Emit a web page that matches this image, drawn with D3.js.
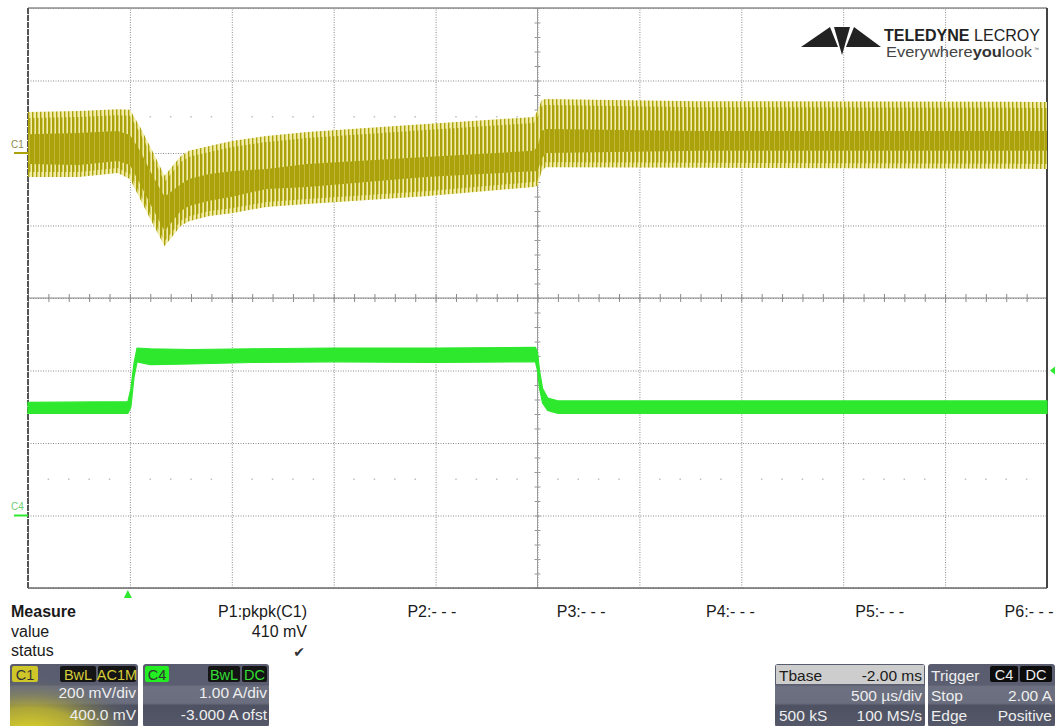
<!DOCTYPE html>
<html><head><meta charset="utf-8">
<script src="https://cdn.jsdelivr.net/npm/d3@7"></script>
<style>
html,body{margin:0;padding:0;background:#fff;}
svg{display:block;font-family:"Liberation Sans",Arial,sans-serif;}
</style></head>
<body>
<svg id="chart" width="1055" height="726"></svg>
<script>
// ---------- DATA ----------
// time axis (ms), 500 us/div, trigger at 0, delay -2.00 ms
const timeDivs = [-0.5,0,0.5,1,1.5,2,2.5,3,3.5,4,4.5];
// C1 (mV), 200 mV/div, offset 400 mV
const c1Divs = [-1200,-1000,-800,-600,-400,-200,0,200,400];
// C1 envelope: time (ms), outer top, core top, core bottom, outer bottom (mV)
const c1Time        = [-0.50,-0.25,-0.06,0.00,0.05,0.10,0.17,0.25,0.29,0.39,0.50,0.67,0.87,1.45,1.98,2.00,2.02,2.04,2.79,4.50];
const c1OuterTop    = [ 113, 116, 121, 119,  72,  17, -63,  -8,   6,  19,  33,  47,  58,  80,  99, 116, 146, 149, 143, 141];
const c1CoreTop     = [  52,  55,  61,  50,   6, -50,-121, -86, -72, -58, -50, -44, -30, -11,   6,  17,  61,  66,  61,  61];
const c1CoreBottom  = [ -30, -33, -22, -33, -86,-141,-215,-160,-146,-132,-121, -99, -94, -66, -50, -50, -17,   0,   6,   6];
const c1OuterBottom = [ -66, -66, -55, -72,-127,-182,-257,-201,-188,-174,-166,-149,-141,-119, -94, -91, -50, -39, -41, -44];
// C4 (A), 1.00 A/div, offset -3.000 A
const c4Time  = [-0.50,-0.01,0.005,0.02,0.035,0.10,0.30,0.60,1.00,1.50,1.99,2.00,2.01,2.025,2.05,2.10,4.50];
const c4Upper = [ 1.56, 1.57, 1.75, 2.10, 2.31, 2.30, 2.29, 2.30, 2.31, 2.31, 2.32, 2.25, 2.00, 1.75, 1.62, 1.58, 1.58];
const c4Lower = [ 1.41, 1.41, 1.50, 1.90, 2.12, 2.08, 2.09, 2.11, 2.12, 2.11, 2.12, 2.00, 1.75, 1.55, 1.45, 1.41, 1.41];
const trigTime = 0, trigLevel = 2.00;
// measurement panel
const paramLabels = ["P1:pkpk(C1)","P2:- - -","P3:- - -","P4:- - -","P5:- - -","P6:- - -"];
const paramValues = ["410 mV","","","","",""];

// ---------- LAYOUT ----------
const L=28, R=1047, T=8, B=588;
const svg = d3.select("#chart");
const x  = d3.scaleLinear().domain([-0.5,4.5]).range([L,R]);
const y1 = d3.scaleLinear().domain([-1200,400]).range([B,T]);
const y4 = d3.scaleLinear().domain([-1,7]).range([B,T]);
const OLIVE="#aba20b", GREEN="#2ee82e", PALE="#f2eda8";

const defs = svg.append("defs");
function stripePattern(id, period, olW, bg){
  const p = defs.append("pattern").attr("id",id).attr("patternUnits","userSpaceOnUse")
    .attr("width",period).attr("height",10);
  p.append("rect").attr("width",period).attr("height",10).attr("fill",bg);
  p.append("rect").attr("width",olW).attr("height",10).attr("fill",OLIVE);
}
stripePattern("fringe",4,1.4,PALE);
stripePattern("stripes",4,2.4,PALE);
stripePattern("core",5,4.2,"#c4bc3c");

// grid
const gx = svg.append("g").attr("transform",`translate(0,${B})`)
  .call(d3.axisBottom(x).tickValues(timeDivs).tickSize(-(B-T)).tickFormat(""));
const gy = svg.append("g").attr("transform",`translate(${L},0)`)
  .call(d3.axisLeft(y1).tickValues(c1Divs).tickSize(-(R-L)).tickFormat(""));
[gx,gy].forEach(g=>{g.select(".domain").remove();
  g.selectAll(".tick line").attr("stroke","#8a8a8a").attr("stroke-dasharray","1,1.5");});

// faint dot rows
const minorT = d3.range(-0.5,4.5001,0.1).filter((d,i)=>i%5!==0);
[100,-900].forEach(v=>{
  svg.append("g").selectAll("rect").data(minorT).join("rect")
    .attr("x",d=>x(d)-0.75).attr("y",y1(v)-0.75).attr("width",1.5).attr("height",1.5).attr("fill","#c0c0c0");
});

// centre cross with minor ticks
svg.append("line").attr("x1",L).attr("x2",R).attr("y1",y1(-400)).attr("y2",y1(-400)).attr("stroke","#8a8a8a");
svg.append("line").attr("x1",x(2)).attr("x2",x(2)).attr("y1",T).attr("y2",B).attr("stroke","#9a9a9a");
const minorX = d3.range(-0.5,4.5001,0.1);
const minorY = d3.range(-1200,400.1,40);
[d3.axisBottom(x),d3.axisTop(x)].forEach(a=>{
  const g=svg.append("g").attr("transform",`translate(0,${y1(-400)})`).call(a.tickValues(minorX).tickSize(4).tickFormat(""));
  g.select(".domain").remove(); g.selectAll(".tick line").attr("stroke","#8a8a8a");
});
[d3.axisLeft(y1),d3.axisRight(y1)].forEach(a=>{
  const g=svg.append("g").attr("transform",`translate(${x(2)},0)`).call(a.tickValues(minorY).tickSize(3).tickFormat(""));
  g.select(".domain").remove(); g.selectAll(".tick line").attr("stroke","#9a9a9a");
});

// border
svg.append("line").attr("x1",L).attr("x2",R).attr("y1",T).attr("y2",T).attr("stroke","#8c8c8c").attr("stroke-width",1.5);
svg.append("line").attr("x1",L).attr("x2",R).attr("y1",B).attr("y2",B).attr("stroke","#6a6a6a").attr("stroke-width",1.5);
svg.append("line").attr("x1",L).attr("x2",L).attr("y1",T).attr("y2",B).attr("stroke","#555").attr("stroke-width",2).attr("stroke-dasharray","6,1");
svg.append("line").attr("x1",R).attr("x2",R).attr("y1",T).attr("y2",B).attr("stroke","#444").attr("stroke-width",2);

// ---------- TRACES ----------
const c1 = c1Time.map((t,i)=>({t,ot:c1OuterTop[i],ct:c1CoreTop[i],cb:c1CoreBottom[i],ob:c1OuterBottom[i]}));
svg.append("path").datum(c1)
  .attr("d",d3.area().x(d=>x(d.t)).y0(d=>y1(d.ob)).y1(d=>y1(d.ot)))
  .attr("fill","url(#fringe)");
svg.append("path").datum(c1)
  .attr("d",d3.area().x(d=>x(d.t)).y0(d=>y1(d.ob)-5).y1(d=>y1(d.ot)+6))
  .attr("fill","url(#stripes)");
svg.append("path").datum(c1)
  .attr("d",d3.area().x(d=>x(d.t)).y0(d=>y1(d.cb)).y1(d=>y1(d.ct)))
  .attr("fill","url(#core)");

const c4 = c4Time.map((t,i)=>({t,u:c4Upper[i],l:c4Lower[i]}));
svg.append("path").datum(c4)
  .attr("d",d3.area().x(d=>x(d.t)).y0(d=>y4(d.l)).y1(d=>y4(d.u)))
  .attr("fill",GREEN).attr("stroke",GREEN).attr("stroke-width",1.2);

// channel markers
svg.append("text").attr("x",11).attr("y",148).attr("font-size",10).attr("fill","#8f8c4a").text("C1");
svg.append("line").attr("x1",14).attr("x2",L).attr("y1",y1(0)).attr("y2",y1(0)).attr("stroke",OLIVE).attr("stroke-width",2);
svg.append("text").attr("x",11).attr("y",510).attr("font-size",10).attr("fill","#6fcf6f").text("C4");
svg.append("line").attr("x1",14).attr("x2",L).attr("y1",y4(0)).attr("y2",y4(0)).attr("stroke",GREEN).attr("stroke-width",2);
// trigger markers
const tx=x(trigTime)-2;
svg.append("path").attr("d",`M${tx-4},598L${tx+4},598L${tx},590Z`).attr("fill",GREEN);
const ty=y4(trigLevel);
svg.append("path").attr("d",`M1050,${ty}L1055,${ty-4}L1055,${ty+4}Z`).attr("fill",GREEN);

// ---------- LOGO ----------
const logo = svg.append("g").attr("fill","#222");
logo.append("path").attr("d","M801,47L830,27L838,47Z");
logo.append("path").attr("d","M834,27L850,27L842,55Z");
logo.append("path").attr("d","M881,47L854,27L846,47Z");
const lt = svg.append("text").attr("x",884).attr("y",41).attr("font-size",17).attr("fill","#222")
  .attr("textLength",156).attr("lengthAdjust","spacingAndGlyphs");
lt.append("tspan").attr("font-weight","bold").text("TELEDYNE");
lt.append("tspan").text(" LECROY");
const lt2 = svg.append("text").attr("x",886).attr("y",57).attr("font-size",14).attr("fill","#444")
  .attr("textLength",146).attr("lengthAdjust","spacingAndGlyphs");
lt2.append("tspan").text("Everywhere");
lt2.append("tspan").attr("font-weight","bold").attr("fill","#333").text("you");
lt2.append("tspan").text("look");
svg.append("text").attr("x",1034).attr("y",51).attr("font-size",5).attr("fill","#555").text("™");

// ---------- MEASURE PANEL ----------
const mp = svg.append("g").attr("font-size",16).attr("fill","#1a1a1a");
mp.append("text").attr("x",11).attr("y",617).attr("font-weight","bold").text("Measure");
mp.append("text").attr("x",11).attr("y",637).text("value");
mp.append("text").attr("x",11).attr("y",656).text("status");
paramLabels.forEach((p,i)=>{
  const xr = 307 + 149.3*i;
  mp.append("text").attr("x",xr).attr("y",617).attr("text-anchor","end").text(p);
  if(paramValues[i]) mp.append("text").attr("x",xr).attr("y",637).attr("text-anchor","end").text(paramValues[i]);
});
svg.append("text").attr("x",305).attr("y",657).attr("text-anchor","end").attr("font-size",14)
  .attr("font-family","DejaVu Sans").attr("fill","#333").text("✔");

// ---------- INFO BOXES ----------
const g1 = defs.append("linearGradient").attr("id","boxg").attr("x1",0).attr("x2",0).attr("y1",0).attr("y2",1);
[["0","#585c6e"],["0.33","#5a5e70"],["0.36","#6c7080"],["0.62","#6a6e7e"],["0.66","#4d5162"],["1","#545869"]]
  .forEach(s=>g1.append("stop").attr("offset",s[0]).attr("stop-color",s[1]));
const rg = defs.append("radialGradient").attr("id","yglow").attr("cx",0.15).attr("cy",1.1).attr("r",0.9);
rg.append("stop").attr("offset","0").attr("stop-color","#e0d625").attr("stop-opacity",1);
rg.append("stop").attr("offset","0.45").attr("stop-color","#bdb432").attr("stop-opacity",0.85);
rg.append("stop").attr("offset","1").attr("stop-color","#5a5e70").attr("stop-opacity",0);

function box(x0,w){
  svg.append("rect").attr("x",x0).attr("y",664).attr("width",w).attr("height",63).attr("rx",3).attr("fill","url(#boxg)");
}
function tag(x0,w,txt,bg,fg){
  svg.append("rect").attr("x",x0).attr("y",666).attr("width",w).attr("height",16).attr("rx",2).attr("fill",bg);
  svg.append("text").attr("x",x0+w/2).attr("y",680).attr("text-anchor","middle").attr("font-size",14.5).attr("fill",fg).text(txt);
}
function txt(xx,yy,s,anchor,col,size){
  svg.append("text").attr("x",xx).attr("y",yy).attr("text-anchor",anchor||"start")
    .attr("font-size",size||15.5).attr("fill",col||"#eeeeee").text(s);
}
// C1
box(10,128);
svg.append("rect").attr("x",10).attr("y",664).attr("width",128).attr("height",63).attr("rx",3).attr("fill","url(#yglow)");
tag(12,26,"C1","#cfc62a","#333");
tag(60,36,"BwL","#141414","#d6cd3a");
tag(98,38,"AC1M","#141414","#d6cd3a");
txt(136,698,"200 mV/div","end");
txt(136,720,"400.0 mV","end");
// C4
box(143,126);
tag(145,24,"C4","#22ee22","#333");
tag(208,32,"BwL","#141414","#33dd33");
tag(242,25,"DC","#141414","#33dd33");
txt(267,698,"1.00 A/div","end");
txt(267,720,"-3.000 A ofst","end");
// Tbase
box(775,150);
svg.append("rect").attr("x",776).attr("y",665).attr("width",148).attr("height",19).attr("fill","#cdcdcd");
txt(779,681,"Tbase","start","#1a1a1a");
txt(922,681,"-2.00 ms","end","#1a1a1a");
txt(922,701,"500 µs/div","end");
txt(779,721,"500 kS");
txt(922,721,"100 MS/s","end");
// Trigger
box(928,127);
txt(931,681,"Trigger");
tag(990,28,"C4","#0c0c0c","#eeeeee");
tag(1020,32,"DC","#0c0c0c","#eeeeee");
txt(931,701,"Stop");
txt(1052,701,"2.00 A","end");
txt(931,721,"Edge");
txt(1052,721,"Positive","end");
</script>
</body></html>
